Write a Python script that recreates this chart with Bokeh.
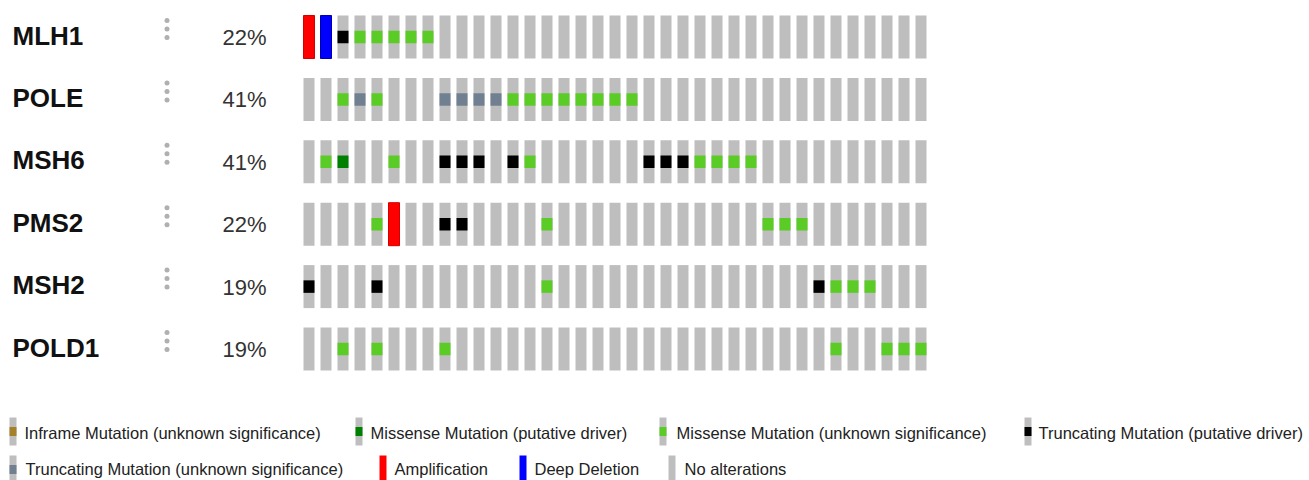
from bokeh.plotting import figure
from bokeh.models import Range1d
from bokeh.core.properties import value
from bokeh.embed import file_html
from bokeh.resources import INLINE

# ---------------- data ----------------
genes = ["MLH1", "POLE", "MSH6", "PMS2", "MSH2", "POLD1"]
altered_pct = ["22%", "41%", "41%", "22%", "19%", "19%"]
n_samples = 37

amp_gene = ["MLH1", "PMS2"]
amp_sample = [0, 5]

del_gene = ["MLH1"]
del_sample = [1]

trunc_drv_gene = ["MLH1", "MSH6", "MSH6", "MSH6", "MSH6", "MSH6", "MSH6", "MSH6",
                  "PMS2", "PMS2", "MSH2", "MSH2", "MSH2"]
trunc_drv_sample = [2, 8, 9, 10, 12, 20, 21, 22, 8, 9, 0, 4, 30]

trunc_vus_gene = ["POLE", "POLE", "POLE", "POLE", "POLE"]
trunc_vus_sample = [3, 8, 9, 10, 11]

mis_drv_gene = ["MSH6"]
mis_drv_sample = [2]

mis_vus_gene = (["MLH1"] * 5 + ["POLE"] * 10 + ["MSH6"] * 7 + ["PMS2"] * 5
                + ["MSH2"] * 4 + ["POLD1"] * 7)
mis_vus_sample = [3, 4, 5, 6, 7,
                  2, 4, 12, 13, 14, 15, 16, 17, 18, 19,
                  1, 5, 13, 23, 24, 25, 26,
                  4, 14, 27, 28, 29,
                  14, 31, 32, 33,
                  2, 4, 8, 31, 34, 35, 36]

legend_labels = ["Inframe Mutation (unknown significance)",
                 "Missense Mutation (putative driver)",
                 "Missense Mutation (unknown significance)",
                 "Truncating Mutation (putative driver)",
                 "Truncating Mutation (unknown significance)",
                 "Amplification", "Deep Deletion", "No alterations"]

# ---------------- style ----------------
C_GRAY = "#bebebe"
C_AMP = "#ff0000"
C_DEL = "#0000ff"
C_TRUNC_DRV = "#000000"
C_TRUNC_VUS = "#708090"
C_MIS_DRV = "#008000"
C_MIS_VUS = "#5bcb26"
C_INFRAME = "#a68028"

legend_colors = [C_INFRAME, C_MIS_DRV, C_MIS_VUS, C_TRUNC_DRV, C_TRUNC_VUS, C_AMP, C_DEL, C_GRAY]
legend_full = [False, False, False, False, False, True, True, True]
# layout of legend (screen px)
legend_swatch_x = [9, 355, 659, 1024, 9, 379, 519, 668]
legend_text_x = [24, 370, 676, 1038, 25, 394, 534, 684]
legend_row_y = [431, 431, 431, 431, 469, 469, 469, 469]
legend_text_y = [432, 432, 432, 432, 468, 468, 468, 468]

W, H = 1309, 480
PX, PY = 17.0, 62.4          # pixels per column / per row
X0, Y0 = 308.5, 36.5         # pixel center of column 0 / row 0


def sx(screen_x):
    return (screen_x - X0) / PX


def sy(screen_y):
    return (screen_y - Y0) / PY


p = figure(width=W, height=H, output_backend="svg", toolbar_location=None,
           x_range=Range1d(-X0 / PX, (W - X0) / PX),
           y_range=Range1d((H - Y0) / PY, -Y0 / PY),
           min_border=0, background_fill_color="white", border_fill_color="white")
p.outline_line_color = None
p.xaxis.visible = False
p.yaxis.visible = False
p.xgrid.visible = False
p.ygrid.visible = False

CW = 11 / PX
CH = 43 / PY
MH = 12.5 / PY

# background cells
bx, by = [], []
for r in range(len(genes)):
    for c in range(n_samples):
        bx.append(c)
        by.append(r)
p.rect(x=bx, y=by, width=CW, height=CH, fill_color=C_GRAY, line_color=None)


def rows(glist):
    return [genes.index(g) for g in glist]


p.rect(x=amp_sample, y=rows(amp_gene), width=CW, height=CH, fill_color=C_AMP,
       line_color="#d40000", line_width=1)
p.rect(x=del_sample, y=rows(del_gene), width=CW, height=CH, fill_color=C_DEL,
       line_color="#0000b0", line_width=1)

for gl, sl, col in [(trunc_drv_gene, trunc_drv_sample, C_TRUNC_DRV),
                    (trunc_vus_gene, trunc_vus_sample, C_TRUNC_VUS),
                    (mis_drv_gene, mis_drv_sample, C_MIS_DRV),
                    (mis_vus_gene, mis_vus_sample, C_MIS_VUS)]:
    p.rect(x=sl, y=rows(gl), width=CW, height=MH, fill_color=col, line_color=None)

# gene labels and percentages
gy = list(range(len(genes)))
p.text(x=[sx(12)] * len(genes), y=[r - 1.5 / PY for r in gy], text=genes,
       text_font=value("Liberation Sans"), text_font_size="26px", text_font_style="bold",
       text_color="#111111", text_baseline="middle", text_align="left")
p.text(x=[sx(222)] * len(genes), y=[r + 0.5 / PY for r in gy], text=altered_pct,
       text_font=value("Liberation Sans"), text_font_size="22px",
       text_color="#333333", text_baseline="middle", text_align="left")

# menu dots
dx, dy = [], []
for r in gy:
    for off in (-16.5, -8.0, 0.5):
        dx.append(sx(166.5))
        dy.append(r + off / PY)
p.scatter(x=dx, y=dy, size=5, marker="circle", fill_color="#b0b0b0", line_color=None)

# legend
SW = 7 / PX
for lab, colr, full, swx, tx, ly, tyy in zip(legend_labels, legend_colors, legend_full,
                                              legend_swatch_x, legend_text_x,
                                              legend_row_y, legend_text_y):
    cx = sx(swx + 3.5)
    cy = sy(ly)
    if full:
        p.rect(x=[cx], y=[cy], width=SW, height=28 / PY, fill_color=colr, line_color=None)
    else:
        p.rect(x=[cx], y=[cy], width=SW, height=28 / PY, fill_color=C_GRAY, line_color=None)
        p.rect(x=[cx], y=[cy], width=SW, height=9 / PY, fill_color=colr, line_color=None)
    p.text(x=[sx(tx)], y=[sy(tyy)], text=[lab], text_font=value("Liberation Sans"),
           text_font_size="16.5px", text_color="#222222", text_baseline="middle",
           text_align="left")

open("out.html", "w").write(file_html(p, INLINE))
